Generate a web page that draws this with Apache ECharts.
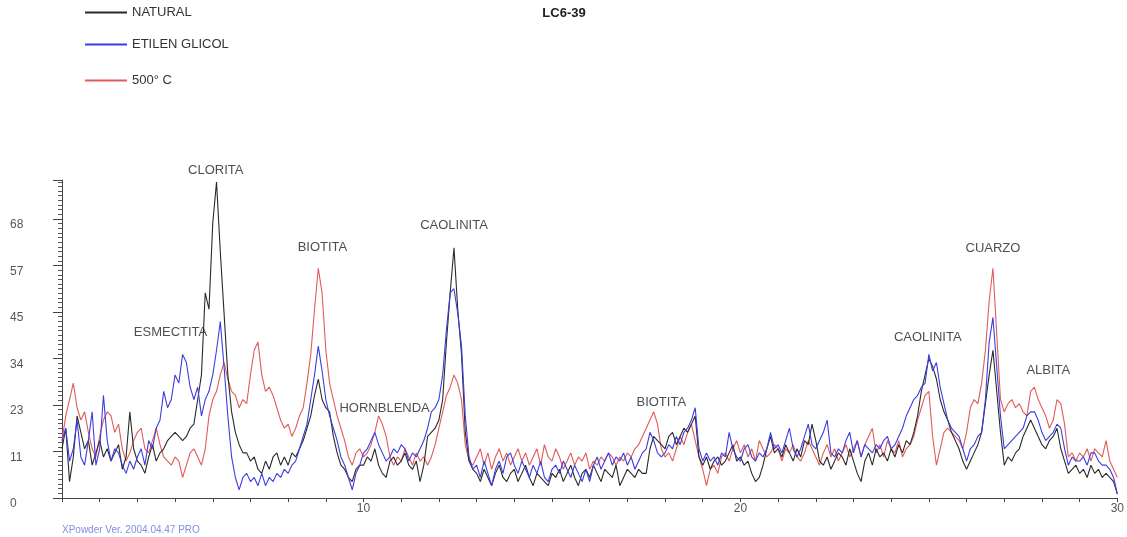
<!DOCTYPE html>
<html><head><meta charset="utf-8">
<script src="https://cdn.jsdelivr.net/npm/echarts@6/dist/echarts.min.js"></script>
<style>html,body{margin:0;padding:0;background:#fff}#c{width:1127px;height:537px}</style>
</head><body><div id="c"></div>
<script>
// 2-theta scan: first angle and step (degrees)
const X_START = 2, X_STEP = 0.1;

const natural = [
12,17,4,10,20,16,12,14,8,11,
14,10,12,9,11,13,7,10,21,12,
9,8,6,10,13,9,11,12,14,15,
16,15,14,15,17,18,24,30,50,46,
67,77,60,45,30,21,16,13,11,11,
9,10,7,6,9,7,10,11,8,10,
8,11,10,12,14,17,20,25,29,24,
22,21,15,11,8,7,5,4,7,8,
8,10,9,12,8,6,5,9,10,8,
9,11,8,7,9,4,8,15,16,17,
19,24,38,50,61,46,35,16,9,7,
6,4,7,5,3,6,8,5,4,6,
7,4,6,8,5,3,6,5,4,3,
6,5,7,4,6,8,5,3,6,7,
5,8,6,4,7,6,5,8,3,5,
7,6,5,7,6,6,12,15,14,13,
12,15,16,13,15,17,16,18,20,10,
8,10,7,9,10,8,9,11,13,9,
10,8,9,6,4,5,8,12,15,11,
12,10,13,11,9,12,10,14,13,18,
14,9,8,10,7,9,11,10,8,12,
9,6,4,9,11,8,12,10,11,9,
12,10,13,11,14,13,16,20,26,30,
34,32,29,24,21,19,16,14,12,9,
7,9,11,13,16,23,30,36,26,16,
8,10,9,11,12,15,17,19,17,15,
13,12,14,15,17,12,9,6,7,8,
6,7,5,8,6,7,5,6,5,4,
1];

const etilen = [
14,17,9,12,19,10,8,14,21,8,
12,25,14,9,12,11,8,6,9,7,
10,12,8,14,12,17,19,26,22,24,
30,28,35,33,27,24,27,20,24,26,
30,36,43,32,20,10,5,2,5,6,
4,5,3,6,3,5,4,6,5,7,
6,8,9,12,15,18,24,30,37,31,
24,20,17,14,10,8,5,2,6,8,
11,12,14,16,13,11,9,10,12,11,
13,12,9,11,10,12,14,17,21,22,
24,30,41,50,51,45,37,20,10,7,
8,5,9,6,3,7,9,6,10,11,
8,6,9,7,5,8,6,9,5,4,
7,8,6,9,7,5,8,6,4,7,
4,8,10,7,9,11,8,10,9,11,
8,10,7,9,11,12,16,14,11,10,
11,13,12,15,13,16,17,19,22,12,
9,11,9,10,8,11,10,16,12,10,
9,12,13,10,9,11,10,12,16,12,
13,11,14,17,12,10,12,15,18,13,
12,14,16,19,11,10,12,11,14,16,
11,14,10,13,12,11,13,12,14,15,
12,13,15,17,20,22,24,25,27,28,
35,31,33,27,23,19,17,16,15,12,
9,12,13,15,16,24,38,44,32,20,
12,13,14,15,16,17,20,21,21,19,
16,14,15,16,18,17,12,8,10,9,
9,10,8,11,11,9,8,8,7,5,
1];

const c500 = [
14,20,24,28,22,19,21,16,12,10,
15,19,21,20,16,18,12,9,11,14,
16,17,12,11,14,17,13,10,9,8,
10,9,5,8,11,12,10,8,12,20,
24,26,30,33,29,26,25,22,24,23,
30,36,38,30,26,27,25,22,19,17,
18,15,17,20,22,28,35,46,56,50,
36,28,24,20,17,14,10,8,11,12,
10,11,13,16,20,18,15,10,8,10,
9,12,10,8,11,9,10,8,10,13,
17,21,25,27,30,28,24,13,9,8,
10,12,8,11,7,10,12,9,11,8,
10,12,9,11,8,10,12,8,13,10,
9,12,10,7,9,11,8,10,9,11,
7,9,8,10,9,11,10,8,10,9,
11,10,12,13,15,17,19,21,18,12,
10,11,9,12,15,13,16,18,14,10,
7,3,7,8,6,10,11,9,12,14,
11,13,10,12,9,14,12,10,11,13,
12,9,12,11,13,10,9,11,14,12,
10,8,11,13,10,12,9,11,13,10,
12,14,10,13,15,17,11,13,10,14,
12,11,14,10,12,13,15,19,22,25,
26,15,8,12,16,17,16,15,14,12,
16,22,24,23,28,36,48,56,40,24,
21,23,24,22,23,21,20,26,27,24,
22,20,17,19,24,23,18,10,11,9,
11,10,12,9,12,11,10,14,9,7,
5];

const seriesNames = ['NATURAL', 'ETILEN GLICOL', '500° C'];
const xLabelValues = [10, 20, 30];
const yLabelMax = 68;
const peakLabels = ['CLORITA','ESMECTITA','BIOTITA','CAOLINITA','HORNBLENDA','BIOTITA','CAOLINITA','CUARZO','ALBITA'];
const peakX = [6.08, 4.88, 8.91, 12.4, 10.56, 17.9, 24.97, 26.7, 28.17];
const peakY = [79.9, 40.4, 61.1, 66.5, 21.9, 23.3, 39.2, 60.9, 31.2];

const FONT = 'Liberation Sans, Arial, sans-serif';
const toPairs = arr => arr.map((v, i) => [+(X_START + i * X_STEP).toFixed(1), v]);
const colors = { 'NATURAL': '#2a2a2a', 'ETILEN GLICOL': '#3c3ce0', '500° C': '#e25a5a' };
const dataByName = { 'NATURAL': natural, 'ETILEN GLICOL': etilen, '500° C': c500 };
const legendTops = [6, 38, 74];

const chart = echarts.init(document.getElementById('c'));
const lineSeries = ['500° C', 'NATURAL', 'ETILEN GLICOL'].map((name, k) => ({
  type: 'line', name, data: toPairs(dataByName[name]),
  symbol: 'none', showSymbol: false, color: colors[name],
  lineStyle: { width: 1.1, color: colors[name] }, z: 2 + k
}));

chart.setOption({
  animation: false,
  backgroundColor: '#fff',
  grid: { left: 62, right: 7, top: 180, bottom: 39 },
  legend: seriesNames.map((name, i) => ({
    data: [name], left: 85, top: legendTops[i], padding: 0, orient: 'vertical',
    icon: 'rect', itemWidth: 42, itemHeight: 2, selectedMode: false,
    textStyle: { fontSize: 13, color: '#333', fontFamily: FONT }
  })),
  graphic: [
    { type: 'text', x: 564, y: 13, style: { text: 'LC6-39', font: 'bold 13px ' + FONT, fill: '#222', textAlign: 'center', textVerticalAlign: 'middle' } },
    { type: 'text', x: 62, y: 530, style: { text: 'XPowder Ver. 2004.04.47 PRO', font: '10px ' + FONT, fill: '#7f8fe0', textAlign: 'left', textVerticalAlign: 'middle' } }
  ],
  xAxis: {
    type: 'value', min: 2, max: 30, interval: 1,
    axisLine: { lineStyle: { color: '#444', width: 1 } },
    axisTick: { length: 4, lineStyle: { color: '#444' } },
    axisLabel: { formatter: v => xLabelValues.includes(Math.round(v)) && Math.abs(v - Math.round(v)) < 1e-6 ? String(Math.round(v)) : '', fontSize: 12, color: '#555', margin: 5, fontFamily: FONT },
    splitLine: { show: false }
  },
  yAxis: {
    type: 'value', min: 0, max: 77.5, interval: 68/6,
    axisLine: { show: true, lineStyle: { color: '#444', width: 1 } },
    axisTick: { show: true, length: 9, lineStyle: { color: '#444' } },
    minorTick: { show: true, splitNumber: 10, length: 4, lineStyle: { color: '#555' } },
    axisLabel: { formatter: v => v > yLabelMax + 0.01 ? '' : String(Math.round(v)), align: 'left', margin: 52, verticalAlign: 'top', fontSize: 12, color: '#555', fontFamily: FONT, showMaxLabel: false },
    splitLine: { show: false }
  },
  series: lineSeries.concat([{
    type: 'scatter', name: 'labels', silent: true, clip: false, symbolSize: 1,
    itemStyle: { color: 'rgba(0,0,0,0)' }, z: 10,
    data: peakLabels.map((t, i) => [peakX[i], peakY[i], t]),
    label: { show: true, position: 'inside', formatter: p => p.data[2], fontSize: 13, color: '#222', fontFamily: FONT }
  }])
});
</script></body></html>
